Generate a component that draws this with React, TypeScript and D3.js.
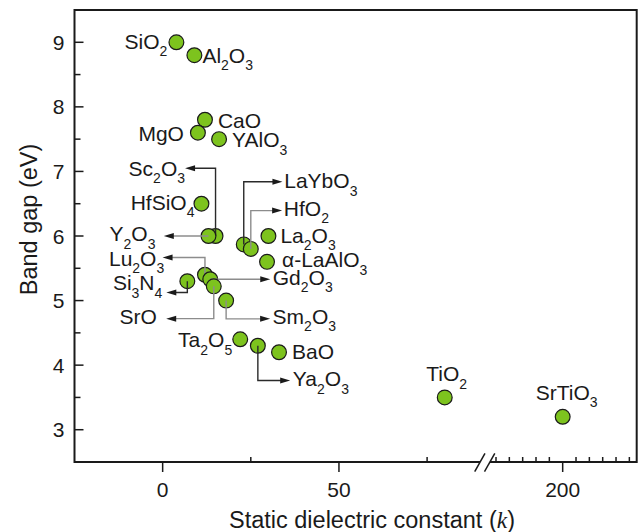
import React from "react";
import * as d3 from "d3";

// ---------------- data ----------------
const materials = [
  "SiO2", "Al2O3", "CaO", "MgO", "YAlO3", "HfSiO4", "Sc2O3", "Y2O3",
  "LaYbO3", "HfO2", "La2O3", "α-LaAlO3", "Lu2O3", "Gd2O3", "SrO", "Si3N4",
  "Sm2O3", "Ta2O5", "Ya2O3", "BaO", "TiO2", "SrTiO3",
];
const kValues = [
  3.9, 9, 12, 10, 16, 11, 15, 13,
  23, 25, 30, 29.6, 12, 13.5, 14.5, 7,
  18, 22, 27, 33, 80, 200,
];
const bandGaps = [
  9.0, 8.8, 7.8, 7.6, 7.5, 6.5, 6.0, 6.0,
  5.87, 5.8, 6.0, 5.6, 5.4, 5.33, 5.22, 5.3,
  5.0, 4.4, 4.3, 4.2, 3.5, 3.2,
];
const yTicks = [3, 4, 5, 6, 7, 8, 9];
const yMinorTicks = [3.5, 4.5, 5.5, 6.5, 7.5, 8.5];
const xTicksLeft = [0, 50];
const xMinorLeft = [25, 75];
const xTicksRight = [200];
const xMinorRight = [150, 160, 170, 180, 190, 210, 220, 230, 240, 250];
const xTitle = "Static dielectric constant (";
const yTitle = "Band gap (eV)";

// ---------------- layout (label placement, relative to point, px) ----------------
type Lab = { dx: number; dy: number; anchor: "start" | "end" | "middle"; elbow?: number; tip?: number; dark?: boolean };
const labelLayout: Record<string, Lab> = {
  SiO2: { dx: -9, dy: 6.5, anchor: "end" },
  Al2O3: { dx: 8, dy: 7.5, anchor: "start" },
  CaO: { dx: 13, dy: 8, anchor: "start" },
  MgO: { dx: -14, dy: 8, anchor: "end" },
  YAlO3: { dx: 13, dy: 8, anchor: "start" },
  HfSiO4: { dx: -7, dy: 6, anchor: "end" },
  La2O3: { dx: 12, dy: 6.5, anchor: "start" },
  "α-LaAlO3": { dx: 15, dy: 5.5, anchor: "start" },
  Ta2O5: { dx: -8, dy: 8, anchor: "end" },
  BaO: { dx: 13, dy: 7, anchor: "start" },
  TiO2: { dx: 2, dy: -16, anchor: "middle" },
  SrTiO3: { dx: 4, dy: -17, anchor: "middle" },
  Sc2O3: { dx: -30.5, dy: -60.3, anchor: "end", elbow: -67.7, tip: -30.5, dark: true },
  Y2O3: { dx: -53, dy: 5.4, anchor: "end", elbow: 0, tip: -44.7 },
  LaYbO3: { dx: 40.5, dy: -56, anchor: "start", elbow: -62.6, tip: 38.7, dark: true },
  HfO2: { dx: 33, dy: -33.3, anchor: "start", elbow: -38.3, tip: 31.3 },
  Lu2O3: { dx: -40.7, dy: -9, anchor: "end", elbow: -17.3, tip: -42.4 },
  Gd2O3: { dx: 62.5, dy: 5.5, anchor: "start", elbow: 0, tip: 60 },
  Si3N4: { dx: -25, dy: 9, anchor: "end", elbow: 11.3, tip: -21, dark: true },
  SrO: { dx: -57, dy: 37.3, anchor: "end", elbow: 32.3, tip: -47.6 },
  Sm2O3: { dx: 46.5, dy: 23.3, anchor: "start", elbow: 18.3, tip: 44 },
  Ya2O3: { dx: 35, dy: 40.7, anchor: "start", elbow: 34.7, tip: 32.3, dark: true },
};
const drawOrder = [
  "SiO2", "Al2O3", "CaO", "MgO", "YAlO3", "HfSiO4", "Sc2O3", "Y2O3",
  "LaYbO3", "HfO2", "La2O3", "α-LaAlO3", "Si3N4", "Lu2O3", "Gd2O3", "SrO",
  "Sm2O3", "Ta2O5", "Ya2O3", "BaO", "TiO2", "SrTiO3",
];

const W = 639, H = 532;
const left = 74.5, right = 636.7, top = 10, bottom = 462;
const breakL = 480, breakR = 490;
const FONT = "'Liberation Sans', Arial, Helvetica, sans-serif";
const FILL = "#7dc31e";
const INK = "#1a1a1a";
const LABEL_SIZE = 21;
const SUB_SIZE = 14;

const xL = d3.scaleLinear().domain([-25, 90]).range([left, breakL]);
const xR = d3.scaleLinear().domain([145.5, 255.5]).range([breakR, right]);
const xPos = (k: number) => (k > 100 ? xR(k) : xL(k));
const y = d3.scaleLinear().domain([2.5, 9.5]).range([bottom, top]);

function Formula({ text, x, y: yy, anchor }: { text: string; x: number; y: number; anchor: string }) {
  const parts = text.split(/(\d+)/).filter((p) => p.length > 0);
  let shifted = false;
  return (
    <text x={x} y={yy} textAnchor={anchor} fontFamily={FONT} fontSize={LABEL_SIZE} fill={INK}>
      {parts.map((p, i) => {
        const isSub = /^\d+$/.test(p);
        let dy = 0;
        if (isSub && !shifted) { dy = 7.5; shifted = true; }
        else if (!isSub && shifted) { dy = -7.5; shifted = false; }
        return (
          <tspan key={i} dy={dy} fontSize={isSub ? SUB_SIZE : LABEL_SIZE}>{p}</tspan>
        );
      })}
    </text>
  );
}

export default function App() {
  const items = drawOrder.map((name) => {
    const i = materials.indexOf(name);
    return { name, k: kValues[i], e: bandGaps[i] };
  });
  return (
    <svg width={W} height={H} style={{ position: "absolute", left: 0, top: 0, display: "block", background: "#fff" }}>
      {/* frame */}
      <g stroke={INK} strokeWidth={2} fill="none">
        <line x1={left} y1={top} x2={right} y2={top} />
        <line x1={left} y1={top - 1} x2={left} y2={bottom + 1} />
        <line x1={right} y1={top - 1} x2={right} y2={bottom + 1} />
        <line x1={left} y1={bottom} x2={breakL} y2={bottom} />
        <line x1={breakR} y1={bottom} x2={right} y2={bottom} />
      </g>
      {/* break marks */}
      <g stroke={INK} strokeWidth={1.5}>
        <line x1={474.7} y1={471.7} x2={485} y2={453.3} />
        <line x1={484.5} y1={471.7} x2={494.8} y2={453.3} />
      </g>
      {/* y ticks */}
      <g stroke={INK} strokeWidth={1.5}>
        {yTicks.map((t) => (
          <line key={"ym" + t} x1={left} x2={left + 9} y1={y(t)} y2={y(t)} />
        ))}
        {yMinorTicks.map((t) => (
          <line key={"yn" + t} x1={left} x2={left + 6} y1={y(t)} y2={y(t)} />
        ))}
      </g>
      {yTicks.map((t) => (
        <text key={"yl" + t} x={64.5} y={y(t) + 7.5} textAnchor="end" fontFamily={FONT} fontSize={LABEL_SIZE} fill={INK}>
          {t}
        </text>
      ))}
      {/* x ticks */}
      <g stroke={INK} strokeWidth={1.5}>
        {xTicksLeft.map((t) => (
          <line key={"xm" + t} x1={xL(t)} x2={xL(t)} y1={bottom} y2={bottom + 10} />
        ))}
        {xTicksRight.map((t) => (
          <line key={"xr" + t} x1={xR(t)} x2={xR(t)} y1={bottom} y2={bottom + 10} />
        ))}
        {xMinorLeft.map((t) => (
          <line key={"xn" + t} x1={xL(t)} x2={xL(t)} y1={bottom} y2={bottom - 5} />
        ))}
        {xMinorRight.map((t) => (
          <line key={"xq" + t} x1={xR(t)} x2={xR(t)} y1={bottom} y2={bottom - 5} />
        ))}
      </g>
      {xTicksLeft.map((t) => (
        <text key={"xl" + t} x={xL(t)} y={496.5} textAnchor="middle" fontFamily={FONT} fontSize={LABEL_SIZE} fill={INK}>{t}</text>
      ))}
      {xTicksRight.map((t) => (
        <text key={"xrl" + t} x={xR(t)} y={496.5} textAnchor="middle" fontFamily={FONT} fontSize={LABEL_SIZE} fill={INK}>{t}</text>
      ))}
      {/* axis titles */}
      <text x={372} y={527.5} textAnchor="middle" fontFamily={FONT} fontSize={23.5} fill={INK}>
        {xTitle}
        <tspan fontFamily="'Liberation Serif', 'Times New Roman', serif" fontStyle="italic">k</tspan>
        )
      </text>
      <text transform={`translate(37,${219.5}) rotate(-90)`} textAnchor="middle" fontFamily={FONT} fontSize={23.5} fill={INK}>
        {yTitle}
      </text>
      {/* points, connectors, labels */}
      {items.map((d) => {
        const px = xPos(d.k);
        const py = y(d.e);
        const lab = labelLayout[d.name];
        let conn = null;
        if (lab.tip !== undefined) {
          const ey = py + (lab.elbow || 0);
          const tx = px + lab.tip;
          const dir = lab.tip > 0 ? 1 : -1;
          const col = lab.dark ? "#2a2a2a" : "#8c8c8c";
          const pts: [number, number][] = [[px, py], [px, ey], [tx - dir * 8, ey]];
          conn = (
            <g>
              <path d={d3.line()(pts) || ""} fill="none" stroke={col} strokeWidth={1.4} />
              <path
                d={`M${tx},${ey} L${tx - dir * 10},${ey - 3} L${tx - dir * 10},${ey + 3} Z`}
                fill={INK}
              />
            </g>
          );
        }
        return (
          <g key={d.name}>
            <circle cx={px} cy={py} r={7.4} fill={FILL} stroke={INK} strokeWidth={1.2} />
            {conn}
            <Formula text={d.name} x={px + lab.dx} y={py + lab.dy} anchor={lab.anchor} />
          </g>
        );
      })}
    </svg>
  );
}
